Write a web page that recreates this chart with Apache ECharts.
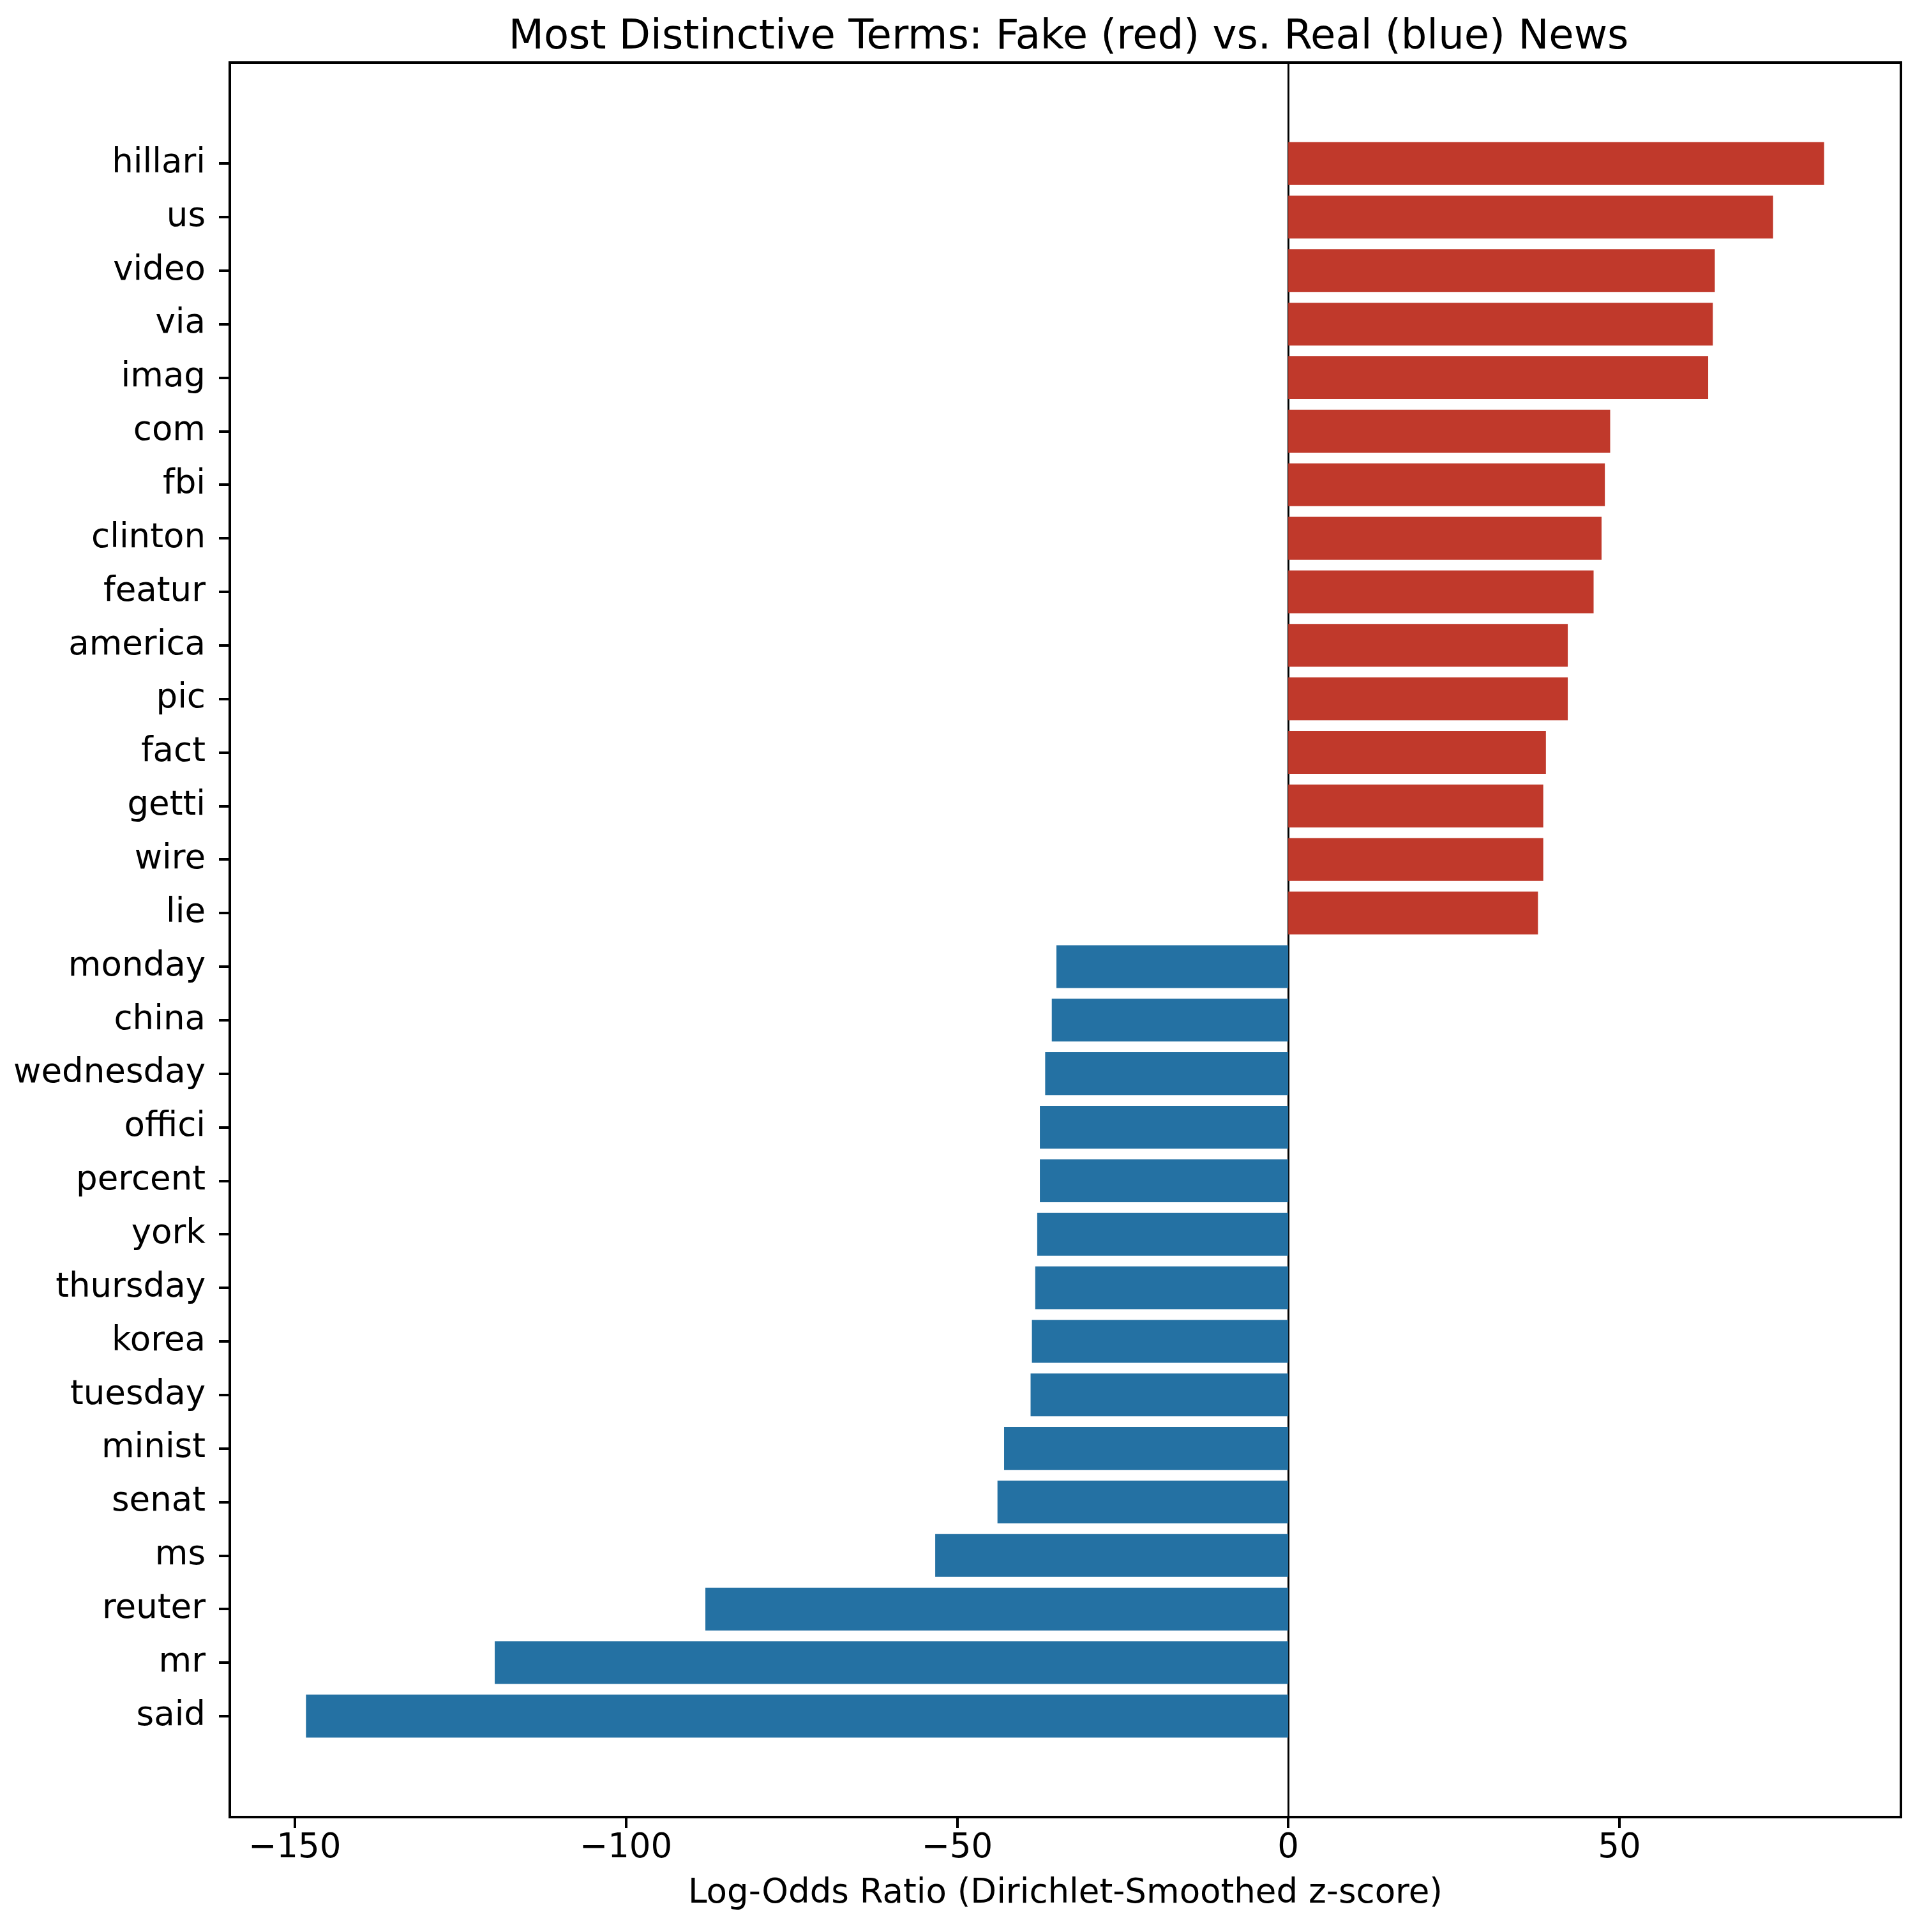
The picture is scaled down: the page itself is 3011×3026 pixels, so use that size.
<!DOCTYPE html>
<html>
<head>
<meta charset="utf-8">
<script src="https://cdn.jsdelivr.net/npm/echarts@6/dist/echarts.min.js"></script>
<style>
  html, body { margin: 0; padding: 0; background: #ffffff; }
  #chart { width: 3011px; height: 3026px; }
</style>
</head>
<body>
<div id="chart"></div>
<script>
// Terms listed top to bottom
var terms = ['hillari', 'us', 'video', 'via', 'imag', 'com', 'fbi', 'clinton', 'featur',
  'america', 'pic', 'fact', 'getti', 'wire', 'lie',
  'monday', 'china', 'wednesday', 'offici', 'percent', 'york', 'thursday', 'korea',
  'tuesday', 'minist', 'senat', 'ms', 'reuter', 'mr', 'said'];
var scores = [80.9, 73.2, 64.4, 64.1, 63.4, 48.6, 47.8, 47.3, 46.1,
  42.2, 42.2, 38.9, 38.5, 38.5, 37.7,
  -35.0, -35.7, -36.7, -37.5, -37.5, -37.9, -38.2, -38.7,
  -38.9, -42.9, -43.9, -53.3, -88.0, -119.8, -148.3];
var xTicks = [-150, -100, -50, 0, 50];

var FAKE_COLOR = '#c0392b';
var REAL_COLOR = '#2471a3';
var FONT = 'DejaVu Sans';

var X_MIN = -159.8, X_MAX = 92.5;

var chart = echarts.init(document.getElementById('chart'), null, { renderer: 'canvas' });

var option = {
  animation: false,
  backgroundColor: '#ffffff',
  title: {
    text: 'Most Distinctive Terms: Fake (red) vs. Real (blue) News',
    left: 1669,
    top: 22,
    textAlign: 'center',
    textStyle: { fontFamily: FONT, fontSize: 64, fontWeight: 'normal', color: '#000' }
  },
  grid: [
    { // frame grid (full axes area)
      left: 360, right: 33, top: 98, bottom: 180,
      show: true, borderColor: '#000', borderWidth: 4, backgroundColor: 'transparent'
    },
    { // bar grid (category bands)
      left: 360, right: 33, top: 214.2, bottom: 296.2
    }
  ],
  xAxis: [
    {
      gridIndex: 0, type: 'value', min: X_MIN, max: X_MAX,
      name: 'Log-Odds Ratio (Dirichlet-Smoothed z-score)',
      nameLocation: 'middle', nameGap: 94,
      nameTextStyle: { fontFamily: FONT, fontSize: 53, color: '#000' },
      axisLine: { show: true, onZero: false, lineStyle: { color: '#000', width: 4 } },
      axisTick: { show: true, inside: false, length: 17, customValues: xTicks,
        lineStyle: { color: '#000', width: 4 } },
      axisLabel: { show: true, margin: 23, customValues: xTicks,
        fontFamily: FONT, fontSize: 53, color: '#000',
        formatter: function (v) { return String(v).replace('-', '\u2212'); } },
      splitLine: { show: false }
    },
    {
      gridIndex: 1, type: 'value', min: X_MIN, max: X_MAX, show: false,
      splitLine: { show: false }
    }
  ],
  yAxis: [
    {
      gridIndex: 0, type: 'value', min: 0, max: 1,
      axisLine: { show: true, onZero: true, lineStyle: { color: '#000', width: 3 } },
      axisTick: { show: false }, axisLabel: { show: false }, splitLine: { show: false }
    },
    {
      gridIndex: 1, type: 'category', data: terms, inverse: true, position: 'left',
      axisLine: { show: false, onZero: false },
      axisTick: { show: true, alignWithLabel: true, inside: false, length: 17,
        lineStyle: { color: '#000', width: 4 } },
      axisLabel: { margin: 38, fontFamily: FONT, fontSize: 53, color: '#000' },
      splitLine: { show: false }
    }
  ],
  series: [
    {
      type: 'bar',
      xAxisIndex: 1, yAxisIndex: 1,
      data: scores,
      barWidth: '80%',
      itemStyle: {
        color: function (p) { return p.value > 0 ? FAKE_COLOR : REAL_COLOR; }
      }
    }
  ]
};

chart.setOption(option);
</script>
</body>
</html>
